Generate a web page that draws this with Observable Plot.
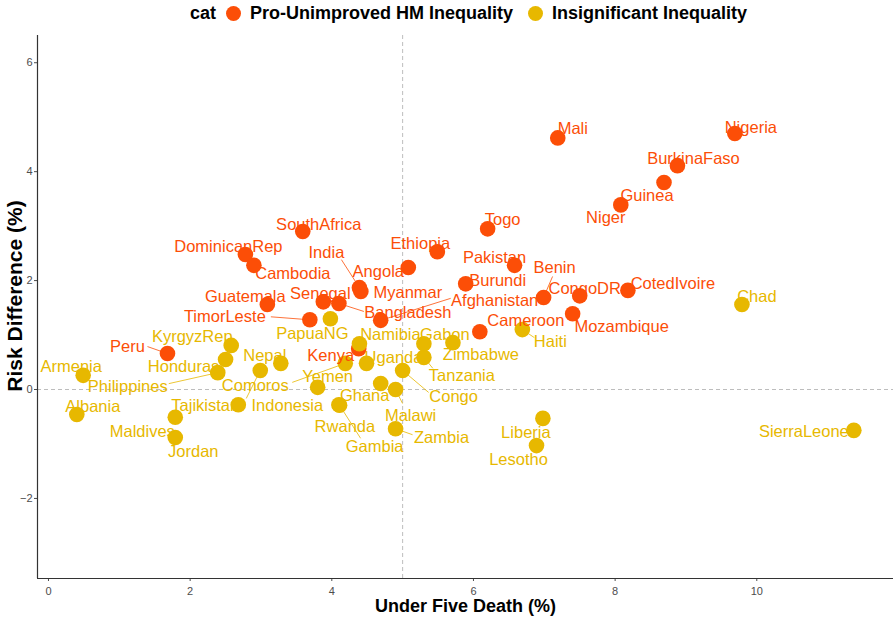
<!DOCTYPE html>
<html><head><meta charset="utf-8">
<script src="https://cdn.jsdelivr.net/npm/d3@7"></script>
<script src="https://cdn.jsdelivr.net/npm/@observablehq/plot@0.6"></script>
<style>
html,body{margin:0;padding:0;background:#fff;}
body{font-family:"Liberation Sans",Arial,sans-serif;width:896px;height:619px;overflow:hidden;}
#legend{height:26px;display:flex;align-items:center;padding-left:190px;font-weight:bold;font-size:18px;color:#000;box-sizing:border-box;}
#legend .sw{width:15px;height:15px;border-radius:50%;display:inline-block;}
#chart svg{display:block;}
</style></head><body>
<div id="legend"></div>
<div id="chart"></div>
<script>
const countries = ["Mali","Nigeria","BurkinaFaso","Guinea","Niger","Togo","SouthAfrica","Ethiopia","Pakistan","DominicanRep","Cambodia","Angola","India","Myanmar","Senegal","Bangladesh","Afghanistan","Burundi","Benin","CongoDR","CotedIvoire","Mozambique","Cameroon","Guatemala","TimorLeste","Peru","Kenya",
"Chad","SierraLeone","Liberia","Lesotho","Haiti","Armenia","Albania","KyrgyzRep","Honduras","Philippines","Nepal","Tajikistan","Indonesia","Maldives","Jordan","PapuaNG","Namibia","Comoros","Uganda","Congo","Gabon","Tanzania","Zimbabwe","Yemen","Ghana","Malawi","Zambia","Rwanda","Gambia"];
const underFiveDeath = [7.19,9.69,8.88,8.69,8.08,6.20,3.59,5.49,6.58,2.78,2.90,5.08,4.39,4.41,3.88,4.10,4.69,5.89,6.99,7.50,8.18,7.40,6.09,3.09,3.69,1.68,4.38,
9.79,11.37,6.98,6.89,6.69,0.49,0.40,2.58,2.50,2.39,3.28,2.99,2.68,1.79,1.79,3.98,4.39,4.19,4.49,5.00,5.30,5.30,5.71,3.80,4.69,4.90,4.90,4.10,4.11];
const riskDifference = [4.62,4.70,4.11,3.80,3.39,2.95,2.90,2.53,2.28,2.48,2.28,2.24,1.87,1.80,1.61,1.58,1.27,1.94,1.69,1.72,1.82,1.39,1.06,1.56,1.28,0.66,0.75,
1.56,-0.75,-0.53,-1.03,1.10,0.26,-0.46,0.81,0.55,0.31,0.48,0.35,-0.28,-0.51,-0.88,1.30,0.84,0.48,0.48,0.35,0.84,0.59,0.86,0.04,0.11,0.00,-0.72,-0.28,-0.29];
const catLevels = ["Pro-Unimproved HM Inequality","Insignificant Inequality"];
const catColors = ["#FC4E07","#E7B800"];
const category = countries.map((c,i)=> i < 27 ? catLevels[0] : catLevels[1]);
const xTicks = [0,2,4,6,8,10];
const yTicks = [-2,0,2,4,6];
const xDomain = [-0.155, 11.93];
const yDomain = [-3.47, 6.5];
const refX = 5, refY = 0;

// label nudges in pixels (label centre relative to its point)
const labelNudge = {
 Mali:[15,-9],Nigeria:[16,-6],BurkinaFaso:[16,-7],Guinea:[-17,13],Niger:[-15,13],Togo:[15,-9],SouthAfrica:[16,-7],
 Ethiopia:[-17,-8],Pakistan:[-20,-8],DominicanRep:[-17,-8],Cambodia:[39,8],Angola:[-30,4],India:[-33,-35],Myanmar:[47,1],
 Senegal:[-3,-8],Bangladesh:[69,9],Afghanistan:[114,-20],Burundi:[32,-3],Benin:[11,-30],CongoDR:[5,-7],CotedIvoire:[45,-7],
 Mozambique:[49,13],Cameroon:[46,-11],Guatemala:[-22,-8],TimorLeste:[-85,-3],Peru:[-40,-7],Kenya:[-28,7],
 Chad:[15,-8],SierraLeone:[-50,1],Liberia:[-17,14],Lesotho:[-18,14],Haiti:[28,12],Armenia:[-12,-9],Albania:[16,-8],
 KyrgyzRep:[-39,-9],Honduras:[-42,7],Philippines:[-90,14],Nepal:[-16,-8],Tajikistan:[-55,35],Indonesia:[49,1],
 Maldives:[-33,14],Jordan:[18,14],PapuaNG:[-18,15],Namibia:[31,-9],Comoros:[-90,22],Uganda:[27,-6],Congo:[51,26],
 Gabon:[21,-9],Tanzania:[38,18],Zimbabwe:[28,12],Yemen:[10,-11],Ghana:[-16,12],Malawi:[15,26],Zambia:[46,9],
 Rwanda:[6,22],Gambia:[35,41]
};
// leader segment ends in pixels relative to the point
const leaderEnd = {
 India:[-18,-28],TimorLeste:[-39,-3],Peru:[-20,-7],Bangladesh:[25,8],Afghanistan:[70,-22],Benin:[9,-21],
 Philippines:[-49,11],Tajikistan:[-14,28],Comoros:[-53,19],Congo:[26,22],Tanzania:[9,11],Zambia:[17,6],
 Haiti:[12,8],Gambia:[21,33],Malawi:[7,14]
};

const W=896,H=593,mL=37,mR=3,mT=9,mB=41;
const kx=(xDomain[1]-xDomain[0])/(W-mL-mR), ky=(yDomain[1]-yDomain[0])/(H-mT-mB);
const data = countries.map((c,i)=>({name:c,x:underFiveDeath[i],y:riskDifference[i],cat:category[i]}));
const labels = data.map(d=>{const n=labelNudge[d.name]||[0,0];return {...d,lx:d.x+n[0]*kx,ly:d.y-n[1]*ky};});
const links = data.filter(d=>leaderEnd[d.name]).map(d=>{const e=leaderEnd[d.name];return {...d,x2:d.x+e[0]*kx,y2:d.y-e[1]*ky};});

// legend
const lg=document.getElementById("legend");
lg.innerHTML = `<span style="margin-right:10px">cat</span>` + catLevels.map((c,i)=>
 `<span class="sw" style="background:${catColors[i]};margin-right:9px"></span><span style="margin-right:${i===0?15:0}px">${c}</span>`).join("");

const chart = Plot.plot({
 width:W,height:H,marginLeft:mL,marginRight:mR,marginTop:mT,marginBottom:mB,
 style:{fontFamily:"'Liberation Sans',Arial,sans-serif",fontSize:"11px",color:"#4d4d4d",background:"#fff"},
 x:{domain:xDomain,ticks:xTicks,tickSize:3,label:null},
 y:{domain:yDomain,ticks:yTicks,tickSize:3,tickPadding:2,label:null},
 color:{domain:catLevels,range:catColors},
 marks:[
  Plot.ruleX([refX],{stroke:"#bdbdbd",strokeDasharray:"4,3"}),
  Plot.ruleY([refY],{stroke:"#bdbdbd",strokeDasharray:"4,3"}),
  Plot.ruleX([xDomain[0]],{stroke:"#333",strokeWidth:1.2}),
  Plot.ruleY([yDomain[0]],{stroke:"#333",strokeWidth:1.2}),
  Plot.dot(data.filter(d=>d.cat===catLevels[0]),{x:"x",y:"y",fill:"cat",r:7.8}),
  Plot.dot(data.filter(d=>d.cat===catLevels[1]),{x:"x",y:"y",fill:"cat",r:7.8}),
  Plot.link(links,{x1:"x",y1:"y",x2:"x2",y2:"y2",stroke:"cat",strokeWidth:0.8}),
  Plot.text(labels,{x:"lx",y:"ly",text:"name",fill:"cat",fontSize:16.5}),
  Plot.text(["Under Five Death (%)"],{frameAnchor:"bottom",lineAnchor:"middle",textAnchor:"middle",dy:28,fontWeight:"bold",fontSize:18,fill:"#000"}),
  Plot.text(["Risk Difference (%)"],{frameAnchor:"left",lineAnchor:"middle",textAnchor:"middle",rotate:-90,dx:-22,dy:-11,fontWeight:"bold",fontSize:21,fill:"#000"})
 ]
});
document.getElementById("chart").appendChild(chart);
</script>
</body></html>
